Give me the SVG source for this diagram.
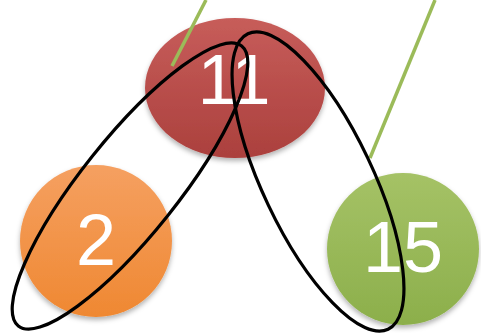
<svg xmlns="http://www.w3.org/2000/svg" width="481" height="333" viewBox="0 0 481 333">
<style>
.lbl{font-family:"Liberation Sans",Arial,sans-serif;fill:#fff;text-anchor:middle}
.loop{fill:none;stroke:#000;stroke-width:3.2}
.stem{stroke:#9bbb59;stroke-width:3.5}
</style>
<defs>
<linearGradient id="gr" x1="0" y1="0" x2="0" y2="1"><stop offset="0" stop-color="#c75d5a"/><stop offset="1" stop-color="#ab403d"/></linearGradient>
<linearGradient id="go" x1="0" y1="0" x2="0" y2="1"><stop offset="0" stop-color="#f5a061"/><stop offset="1" stop-color="#ef8832"/></linearGradient>
<linearGradient id="gg" x1="0" y1="0" x2="0" y2="1"><stop offset="0" stop-color="#a5c266"/><stop offset="1" stop-color="#8caf4b"/></linearGradient>
<filter id="sh" x="-20%" y="-20%" width="140%" height="150%"><feDropShadow dx="0" dy="3" stdDeviation="2.5" flood-color="#000" flood-opacity="0.3"/></filter>
</defs>
<g id="n11"><ellipse cx="235" cy="88" rx="90" ry="70" fill="url(#gr)" filter="url(#sh)"/><text class="lbl" x="234" y="104" font-size="70">11</text></g>
<g id="n2"><circle cx="96" cy="241" r="76" fill="url(#go)" filter="url(#sh)"/><text class="lbl" x="96" y="265" font-size="72">2</text></g>
<g id="n15"><circle cx="403" cy="249" r="76" fill="url(#gg)" filter="url(#sh)"/><text class="lbl" x="403" y="272" font-size="72">15</text></g>
<g id="connectors">
<line class="stem" x1="172" y1="66" x2="206" y2="0"/>
<line class="stem" x1="370" y1="158" x2="435" y2="0"/>
<ellipse class="loop" cx="130" cy="186" rx="179" ry="48" transform="rotate(-51.4 130 186)"/>
<ellipse class="loop" cx="318" cy="181.5" rx="163.5" ry="55" transform="rotate(64.6 318 181.5)"/>
</g>
</svg>
